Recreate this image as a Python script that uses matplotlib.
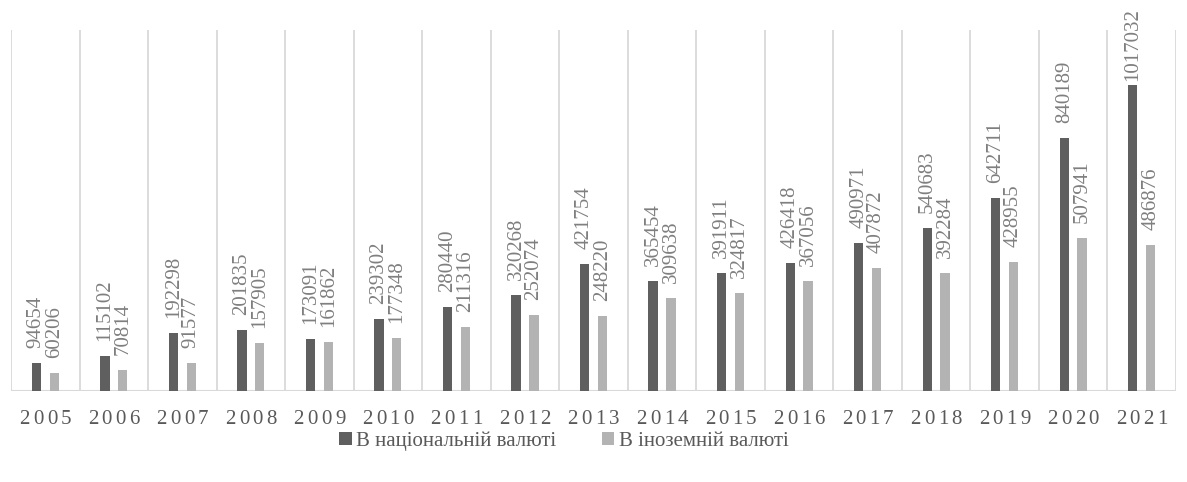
import matplotlib
matplotlib.use("Agg")
import matplotlib.pyplot as plt
import numpy as np
from matplotlib.patches import Patch

years = ["2005", "2006", "2007", "2008", "2009", "2010", "2011", "2012", "2013",
         "2014", "2015", "2016", "2017", "2018", "2019", "2020", "2021"]
national = [94654, 115102, 192298, 201835, 173091, 239302, 280440, 320268, 421754,
            365454, 391911, 426418, 490971, 540683, 642711, 840189, 1017032]
foreign = [60206, 70814, 91577, 157905, 161862, 177348, 211316, 252074, 248220,
           309638, 324817, 367056, 407872, 392284, 428955, 507941, 486876]
series_names = ["В національній валюті", "В іноземній валюті"]

plt.rcParams['font.family'] = ['Liberation Serif', 'DejaVu Serif']

DARK = "#5f5f5f"
LIGHT = "#b3b3b3"
GRID = "#d9d9d9"
LABEL = "#7f7f7f"
TEXT = "#595959"
FS = 15

W, H = 1187, 482
fig = plt.figure(figsize=(W/100, H/100), dpi=100)
ax = fig.add_axes([11/W, (H-391)/H, (1176-11)/W, (391-30)/H])

x = np.arange(len(years))
w = 0.135
off = 0.13
b1 = ax.bar(x - off, national, w, color=DARK, zorder=3)
b2 = ax.bar(x + off, foreign, w, color=LIGHT, zorder=3)

labels = []
for bars, vals in ((b1, national), (b2, foreign)):
    for rect, v in zip(bars, vals):
        t = ax.annotate(str(v), (rect.get_x() + rect.get_width()/2, v),
                        xytext=(0, 15), textcoords="offset pixels",
                        rotation=90, ha="center", va="bottom",
                        fontsize=FS, color=LABEL, zorder=4,
                        annotation_clip=False)
        labels.append(t)

ax.set_xlim(-0.5, len(years) - 0.5)
ax.set_ylim(0, 1200000)
for i in range(len(years) + 1):
    ax.axvline(i - 0.5, color=GRID, lw=1.3, zorder=1)
ax.axhline(0, color=GRID, lw=1.5, zorder=2)

for s in ax.spines.values():
    s.set_visible(False)
ax.set_xticks([])
ax.set_yticks([])

# year labels with letter spacing
pitch = 13.8
for xi, yr in zip(x, years):
    n = len(yr)
    for k, ch in enumerate(yr):
        ax.annotate(ch, (xi, 0), xycoords=('data', 'axes fraction'),
                    xytext=((k - (n - 1)/2) * pitch, -33), textcoords="offset pixels",
                    ha="center", va="baseline", fontsize=FS, color=TEXT,
                    annotation_clip=False)

handles = [Patch(facecolor=DARK, edgecolor='none'), Patch(facecolor=LIGHT, edgecolor='none')]
fig.legend(handles, series_names, loc="center", bbox_to_anchor=(0.475, 1 - 441/H),
           ncol=2, frameon=False, prop={'family': 'Liberation Serif', 'size': FS},
           labelcolor=TEXT, handlelength=0.6, handleheight=0.6,
           handletextpad=0.2, columnspacing=2.2)

# keep value labels inside the figure (like Excel does)
fig.canvas.draw()
r = fig.canvas.get_renderer()
for t in labels:
    bb = t.get_window_extent(r)
    top_limit = H - 8
    if bb.y1 > top_limit:
        dx, dy = t.xyann
        t.xyann = (dx, dy - (bb.y1 - top_limit))

fig.savefig("out.png", dpi=100, facecolor="white")
